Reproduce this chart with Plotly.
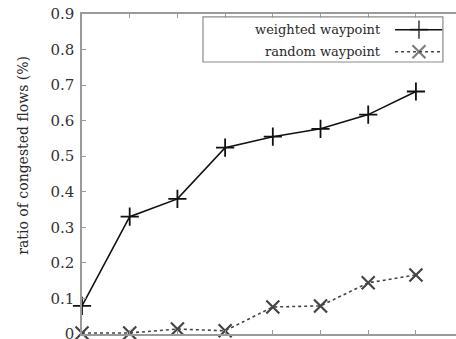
import plotly.graph_objects as go

# ---- data ----
x_index = [0, 1, 2, 3, 4, 5, 6, 7]
weighted_waypoint = [0.079, 0.33, 0.38, 0.524, 0.555, 0.577, 0.617, 0.682]
random_waypoint = [0.003, 0.003, 0.014, 0.009, 0.076, 0.079, 0.144, 0.166]
y_ticks = [0, 0.1, 0.2, 0.3, 0.4, 0.5, 0.6, 0.7, 0.8, 0.9]
y_tick_labels = ["0", "0.1", "0.2", "0.3", "0.4", "0.5", "0.6", "0.7", "0.8", "0.9"]
series_names = ["weighted waypoint", "random waypoint"]
y_title = "ratio of congested flows (%)"

FONT = "DejaVu Serif"
AXIS_COLOR = "#9a9a9a"

fig = go.Figure()
fig.add_trace(go.Scatter(
    x=x_index, y=weighted_waypoint, mode="lines+markers", name=series_names[0],
    line=dict(color="#111111", width=1.6),
    marker=dict(symbol="cross-thin-open", size=13, line=dict(color="#111111", width=1.8)),
    showlegend=False, cliponaxis=False))
fig.add_trace(go.Scatter(
    x=x_index, y=random_waypoint, mode="lines+markers", name=series_names[1],
    line=dict(color="#444444", width=1.6, dash="dot"),
    marker=dict(symbol="x-thin-open", size=13, line=dict(color="#111111", width=2.2)),
    showlegend=False, cliponaxis=False))

# ---- hand-drawn legend (text left of the sample, like gnuplot) ----
leg_x0, leg_x1, leg_y0, leg_y1 = 0.3235, 0.965, 0.85, 0.991
text_right = 0.806
row_y = [0.951, 0.882]
samp = [0.837, 0.901, 0.963]
fig.add_shape(type="rect", xref="paper", yref="paper", x0=leg_x0, x1=leg_x1, y0=leg_y0, y1=leg_y1,
              line=dict(color="#8a8a8a", width=1.2), fillcolor="white", layer="below")
for i, name in enumerate(series_names):
    fig.add_annotation(xref="paper", yref="paper", x=text_right, y=row_y[i], text=name,
                       showarrow=False, xanchor="right", yanchor="middle",
                       font=dict(family=FONT, size=13, color="#2a2a2a"))
fig.add_trace(go.Scatter(
    x=samp, y=[row_y[0]] * 3, xaxis="x2", yaxis="y2", mode="lines+markers",
    line=dict(color="#111111", width=1.6),
    marker=dict(symbol="cross-thin-open", size=[0, 13, 0], line=dict(color="#111111", width=1.8)),
    showlegend=False, hoverinfo="skip"))
fig.add_trace(go.Scatter(
    x=samp, y=[row_y[1]] * 3, xaxis="x2", yaxis="y2", mode="lines+markers",
    line=dict(color="#444444", width=1.6, dash="dot"),
    marker=dict(symbol="x-thin-open", size=[0, 13, 0], line=dict(color="#111111", width=2.2)),
    showlegend=False, hoverinfo="skip"))

fig.add_annotation(xref="paper", yref="paper", x=-0.158, y=0.56, text=y_title, textangle=-90,
                   showarrow=False, xanchor="center", yanchor="middle",
                   font=dict(family=FONT, size=14, color="#2a2a2a"))

fig.update_layout(
    width=456, height=339,
    margin=dict(l=82, r=0, t=14, b=5, autoexpand=False),
    paper_bgcolor="white", plot_bgcolor="white",
    font=dict(family=FONT, size=14, color="#2a2a2a"),
    xaxis=dict(range=[0, 7.84], tickvals=x_index, showticklabels=False, ticks="inside",
               ticklen=4, tickcolor=AXIS_COLOR, showline=True, linecolor=AXIS_COLOR,
               linewidth=1.5, mirror="ticks", showgrid=False, zeroline=False, automargin=False),
    yaxis=dict(range=[0, 0.9], tickvals=y_ticks, ticktext=y_tick_labels, ticks="inside",
               ticklen=4, tickcolor=AXIS_COLOR, showline=True, linecolor=AXIS_COLOR,
               linewidth=1.5, showgrid=False, zeroline=False, ticklabelstandoff=3,
               ticklabeloverflow="allow", automargin=False,
               tickfont=dict(family=FONT, size=15, color="#333333")),
    xaxis2=dict(range=[0, 1], overlaying="x", visible=False),
    yaxis2=dict(range=[0, 1], overlaying="y", visible=False),
)

fig.write_html("out.html")
